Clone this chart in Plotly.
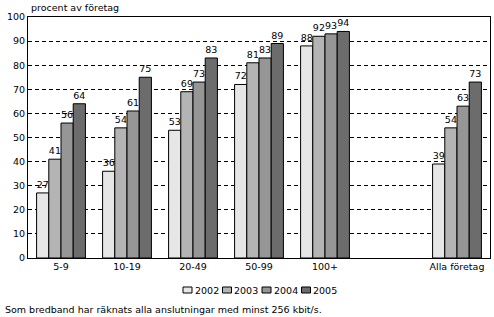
import plotly.graph_objects as go

categories = ["5-9", "10-19", "20-49", "50-99", "100+", " ", "Alla företag"]
years = ["2002", "2003", "2004", "2005"]
v2002 = [27, 36, 53, 72, 88, None, 39]
v2003 = [41, 54, 69, 81, 92, None, 54]
v2004 = [56, 61, 73, 83, 93, None, 63]
v2005 = [64, 75, 83, 89, 94, None, 73]
series = [v2002, v2003, v2004, v2005]
colors = ["#E6E6E6", "#B4B4B4", "#969696", "#6C6C6C"]

FONT = "DejaVu Sans, Verdana, sans-serif"
FS = 9.5

fig = go.Figure()
for name, vals, c in zip(years, series, colors):
    fig.add_trace(go.Bar(
        x=categories, y=vals, name=name,
        marker=dict(color=c, line=dict(color="black", width=1)),
        text=[("" if v is None else str(v)) for v in vals],
        textposition="outside", cliponaxis=False,
        textfont=dict(family=FONT, size=FS, color="black"),
        hoverinfo="skip", showlegend=False,
    ))

# plot area geometry (pixels) for the hand-drawn legend
L, R, T, B = 28, 4, 17, 59
W, H = 494, 317
pw, ph = W - L - R, H - T - B

def px_x(px):
    return (px - L) / pw

def px_y(py):
    return (H - B - py) / ph

shapes = []
annotations = [
    dict(text="procent av företag", xref="paper", yref="paper", x=px_x(29), y=px_y(8),
         xanchor="left", yanchor="middle", showarrow=False, font=dict(size=FS)),
    dict(text="Som bredband har räknats alla anslutningar med minst 256 kbit/s.",
         xref="paper", yref="paper", x=px_x(3), y=px_y(309),
         xanchor="left", yanchor="middle", showarrow=False, font=dict(size=FS)),
]
ly = 290
for i, (name, c) in enumerate(zip(years, colors)):
    x0 = 183 + i * 39.5
    shapes.append(dict(type="rect", xref="paper", yref="paper",
                       x0=px_x(x0), x1=px_x(x0 + 9), y0=px_y(ly + 3), y1=px_y(ly - 3),
                       fillcolor=c, line=dict(color="black", width=1)))
    annotations.append(dict(text=name, xref="paper", yref="paper", x=px_x(x0 + 9.5), y=px_y(ly),
                            xanchor="left", yanchor="middle", showarrow=False,
                            font=dict(size=FS)))

fig.update_layout(
    width=W, height=H,
    margin=dict(l=L, r=R, t=T, b=B),
    paper_bgcolor="white", plot_bgcolor="white",
    barmode="group", bargap=0.26, bargroupgap=0,
    font=dict(family=FONT, size=FS, color="black"),
    showlegend=False,
    xaxis=dict(type="category", categoryorder="array", categoryarray=categories,
               showline=True, linecolor="black", linewidth=1, mirror=True,
               showgrid=False, ticks="", tickfont=dict(size=FS)),
    yaxis=dict(range=[0, 100], dtick=10, showline=True, linecolor="black", linewidth=1,
               mirror=True, showgrid=True, gridcolor="black", gridwidth=1,
               griddash="4px,3px", ticks="", zeroline=False, tickfont=dict(size=FS)),
    shapes=shapes,
    annotations=annotations,
)

fig.write_html("out.html")
